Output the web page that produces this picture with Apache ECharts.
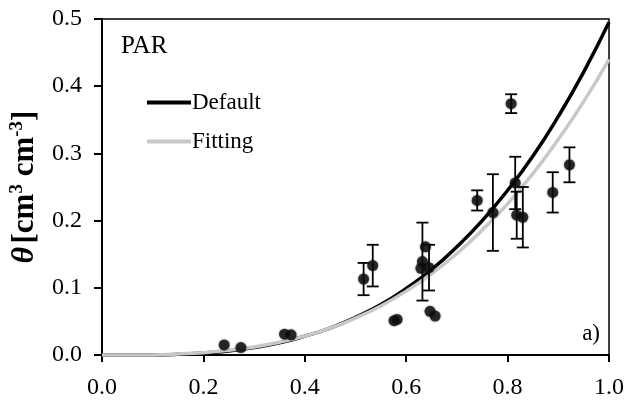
<!DOCTYPE html>
<html><head><meta charset="utf-8">
<script src="https://cdn.jsdelivr.net/npm/echarts@6/dist/echarts.min.js"></script>
<style>html,body{margin:0;padding:0;background:#fff}#c{width:628px;height:402px}</style>
</head><body><div id="c"></div>
<script>
// Curve x positions and read values
var curveX = [0,0.05,0.1,0.15,0.2,0.25,0.3,0.35,0.4,0.45,0.5,0.55,0.6,0.65,0.7,0.75,0.8,0.85,0.9,0.95,1.0];
var defaultY = [0,0,0,0.001,0.003,0.006,0.011,0.018,0.028,0.040,0.056,0.075,0.099,0.127,0.161,0.200,0.245,0.296,0.355,0.421,0.495];
var fittingY = [0,0,0,0.0015,0.0035,0.007,0.012,0.019,0.028,0.040,0.055,0.073,0.095,0.121,0.151,0.186,0.225,0.270,0.321,0.377,0.440];
// Observations
var obsX   = [0.241,0.274,0.360,0.373,0.516,0.534,0.576,0.582,0.629,0.632,0.638,0.645,0.647,0.657,0.740,0.771,0.807,0.815,0.818,0.830,0.889,0.922];
var obsY   = [0.015,0.011,0.031,0.030,0.113,0.133,0.051,0.053,0.129,0.139,0.161,0.130,0.065,0.058,0.230,0.212,0.374,0.256,0.208,0.205,0.242,0.283];
var obsErr = [0,0,0,0,0.024,0.031,0,0,0,0.058,0,0.034,0,0,0.015,0.057,0.014,0.039,0.035,0.045,0.030,0.026];
var xTicks = [0,0.2,0.4,0.6,0.8,1.0];
var yTicks = [0,0.1,0.2,0.3,0.4,0.5];

var FONT = '"Liberation Serif", "Times New Roman", serif';
var chart = echarts.init(document.getElementById('c'));
function pairs(xs, ys){ return xs.map(function(x,i){ return [x, ys[i]]; }); }
var errData = obsX.map(function(x,i){ return [x, obsY[i]-obsErr[i], obsY[i]+obsErr[i]]; }).filter(function(d,i){ return obsErr[i] > 0; });

chart.setOption({
  animation:false,
  backgroundColor:'#fff',
  grid:{left:100,right:19,top:19,bottom:47,show:true,borderColor:'#000',borderWidth:1.5,backgroundColor:'transparent'},
  xAxis:{type:'value',min:0,max:1,interval:0.2,
    axisLine:{lineStyle:{color:'#000',width:2}},
    axisTick:{show:true,length:7,lineStyle:{color:'#000',width:2}},
    splitLine:{show:false},
    axisLabel:{color:'#000',fontFamily:FONT,fontSize:24,margin:21,formatter:function(v){return v.toFixed(1);}}
  },
  yAxis:{type:'value',min:0,max:0.5,interval:0.1,
    axisLine:{lineStyle:{color:'#000',width:2}},
    axisTick:{show:true,length:8,lineStyle:{color:'#000',width:2}},
    splitLine:{show:false},
    axisLabel:{color:'#000',fontFamily:FONT,fontSize:24,margin:20,formatter:function(v){return v.toFixed(1);}},
    name:'{t|θ} {b|[cm}{s|3}{b| cm}{s|-3}{b|]}',
    nameLocation:'middle',nameRotate:90,nameGap:60,
    nameTextStyle:{rich:{
      t:{fontFamily:FONT,fontSize:32,fontWeight:'bold',fontStyle:'italic',color:'#000',lineHeight:34},
      b:{fontFamily:FONT,fontSize:31,fontWeight:'bold',color:'#000',lineHeight:34},
      s:{fontFamily:FONT,fontSize:19,fontWeight:'bold',color:'#000',lineHeight:19,verticalAlign:'top'}
    }}
  },
  legend:{orient:'vertical',left:142,top:86,itemWidth:44,itemHeight:4,itemGap:16,icon:'rect',
    data:['Default','Fitting'],
    textStyle:{fontFamily:FONT,fontSize:23,color:'#000',padding:[0,0,0,-4]}},
  graphic:[
    {type:'text',left:121,top:34,style:{text:'PAR',font:'25px '+FONT,fill:'#000'}},
    {type:'text',right:28,top:322,style:{text:'a)',font:'23px '+FONT,fill:'#000'}}
  ],
  series:[
    {name:'Default',type:'line',data:pairs(curveX,defaultY),smooth:true,showSymbol:false,
      lineStyle:{color:'#000',width:3.5},itemStyle:{color:'#000'},z:3},
    {name:'Fitting',type:'line',data:pairs(curveX,fittingY),smooth:true,showSymbol:false,
      lineStyle:{color:'#c8c8c8',width:3.5},itemStyle:{color:'#c8c8c8'},z:4},
    {name:'err',type:'custom',data:errData,z:5,
      renderItem:function(params, api){
        var x=api.value(0), lo=api.value(1), hi=api.value(2);
        var pLo=api.coord([x,lo]), pHi=api.coord([x,hi]);
        var w=6, st={stroke:'#000',lineWidth:1.8};
        return {type:'group',children:[
          {type:'line',shape:{x1:pLo[0],y1:pLo[1],x2:pHi[0],y2:pHi[1]},style:st},
          {type:'line',shape:{x1:pLo[0]-w,y1:pLo[1],x2:pLo[0]+w,y2:pLo[1]},style:st},
          {type:'line',shape:{x1:pHi[0]-w,y1:pHi[1],x2:pHi[0]+w,y2:pHi[1]},style:st}
        ]};
      }},
    {name:'obs',type:'scatter',data:pairs(obsX,obsY),symbol:'circle',symbolSize:11,
      itemStyle:{color:'#0d0d0d',shadowBlur:2,shadowColor:'rgba(0,0,0,0.6)'},z:6}
  ]
});
</script></body></html>
